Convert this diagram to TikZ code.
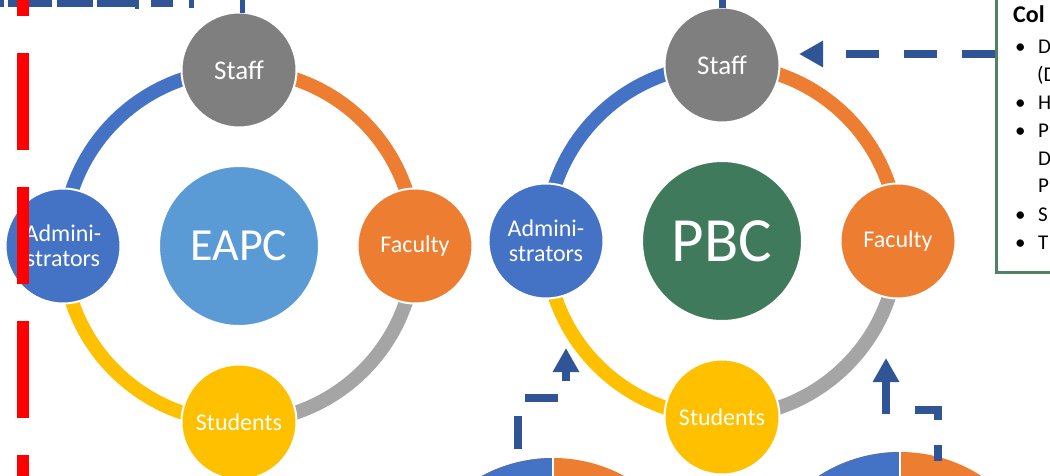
\documentclass[tikz,border=0pt]{standalone}
\usepackage{fontspec}
\setmainfont{Carlito}
\usetikzlibrary{arrows.meta}
\definecolor{cstaff}{HTML}{7F7F7F}
\definecolor{cadm}{HTML}{4472C4}
\definecolor{cfac}{HTML}{ED7D31}
\definecolor{cstu}{HTML}{FFC000}
\definecolor{cgrey}{HTML}{A5A5A5}
\definecolor{ceapc}{HTML}{5B9BD5}
\definecolor{cpbc}{RGB}{64,122,92}
\definecolor{carrow}{HTML}{2F5597}
\definecolor{cbox}{RGB}{80,130,100}
\tikzset{
  ringarc/.style={line width=14pt},
  member/.style={circle, minimum size=115pt, inner sep=0pt, draw=white, line width=2pt,
    text=white, align=center, font=\fontsize{24}{25}\selectfont},
  hub/.style={circle, minimum size=160pt, inner sep=0pt, draw=white, line width=2pt, text=white},
  flow/.style={draw=carrow, line width=8pt, dash pattern=on 33pt off 25pt,
    -{Triangle[length=24pt,width=25pt]}},
  bul/.style={anchor=base west, inner sep=0pt, font=\fontsize{21}{21}\selectfont},
}
\begin{document}
\begin{tikzpicture}[x=1pt,y=-1pt]
\useasboundingbox (0,0) rectangle (1050,476);
\clip (0,0) rectangle (1050,476);
% ---------- left cycle ----------
\coordinate (L) at (239,246);
\draw[ringarc,cfac]  (L) ++(-90:176) arc[start angle=-90,end angle=0,radius=176];
\draw[ringarc,cgrey] (L) ++(0:176)   arc[start angle=0,end angle=90,radius=176];
\draw[ringarc,cstu]  (L) ++(90:176)  arc[start angle=90,end angle=180,radius=176];
\draw[ringarc,cadm]  (L) ++(180:176) arc[start angle=180,end angle=270,radius=176];
\node[hub, fill=ceapc, font=\fontsize{46}{46}\selectfont] (eapc) at (L) {EAPC};
\node[member, fill=cstaff, font=\fontsize{27}{27}\selectfont] (staffL) at (239,70) {Staff};
\node[member, fill=cfac] (facL) at (415,246) {Faculty};
\node[member, fill=cstu] (stuL) at (239,422) {Students};
\node[member, fill=cadm] (admL) at (63,246) {Admini-\\strators};
% ---------- right cycle ----------
\coordinate (R) at (722,241);
\draw[ringarc,cfac]  (R) ++(-90:176) arc[start angle=-90,end angle=0,radius=176];
\draw[ringarc,cgrey] (R) ++(0:176)   arc[start angle=0,end angle=90,radius=176];
\draw[ringarc,cstu]  (R) ++(90:176)  arc[start angle=90,end angle=180,radius=176];
\draw[ringarc,cadm]  (R) ++(180:176) arc[start angle=180,end angle=270,radius=176];
\node[hub, fill=cpbc, font=\fontsize{63}{63}\selectfont] (pbc) at (R) {PBC};
\node[member, fill=cstaff, font=\fontsize{27}{27}\selectfont] (staffR) at (722,65) {Staff};
\node[member, fill=cfac] (facR) at (898,241) {Faculty};
\node[member, fill=cstu] (stuR) at (722,417) {Students};
\node[member, fill=cadm] (admR) at (546,241) {Admini-\\strators};
% ---------- pies ----------
\coordinate (pieL) at (553,608);
\coordinate (pieR) at (900,602);
\fill[cfac] (pieL) circle[radius=150];
\fill[cadm] (pieL) -- ++(270:150) arc[start angle=270,end angle=90,radius=150] -- cycle;
\draw[white,line width=2pt] (pieL) -- ++(270:152);
\fill[cfac] (pieR) circle[radius=150];
\fill[cadm] (pieR) -- ++(270:150) arc[start angle=270,end angle=90,radius=150] -- cycle;
\draw[white,line width=2pt] (pieR) -- ++(270:152);
% ---------- box ----------
\node[draw=cbox, line width=3pt, minimum width=100pt, minimum height=310pt, inner sep=0pt,
  anchor=south west] (box) at (995,274) {};
\node[anchor=base west, inner sep=0pt, font=\bfseries\fontsize{24}{24}\selectfont] (ttl) at (1013,23) {Col};
\node[bul] (b1) at (1015,54) {•};  \node[bul] (t1) at (1038,54) {D};
\node[bul] (t1b) at (1037,82) {(D};
\node[bul] (b2) at (1015,110) {•}; \node[bul] (t2) at (1038,110) {H};
\node[bul] (b3) at (1015,138) {•}; \node[bul] (t3) at (1038,138) {P};
\node[bul] (t3b) at (1038,166) {D};
\node[bul] (t3c) at (1038,193) {P};
\node[bul] (b4) at (1015,221) {•}; \node[bul] (t4) at (1038,221) {S};
\node[bul] (b5) at (1015,249) {•}; \node[bul] (t5) at (1038,249) {T};
% ---------- arrows ----------
\coordinate (tipTop) at (799,54);
\draw[flow] (tipTop -| box.west) -- (tipTop);
\coordinate (startBL) at (518,474);
\coordinate (tipBL) at (566,348);
\draw[flow, dash phase=33pt] (startBL) |- (tipBL |- 0,398) -- (tipBL);
\coordinate (startBR) at (937.5,461);
\coordinate (tipBR) at (886,358);
\draw[flow, dash phase=17pt] (startBR) |- (tipBR |- 0,410) -- (tipBR);
% ---------- top dashed fragments ----------
\fill[carrow] (0,0) rectangle (4,7);
\fill[carrow] (8,0) rectangle (52,7);
\fill[carrow] (57,0) rectangle (93,7);
\fill[carrow] (97,0) rectangle (139,7);
\fill[carrow] (135,0) rectangle (139,9);
\fill[carrow] (151,0) rectangle (173,7);
\fill[carrow] (189,0) rectangle (194,8);
\fill[carrow] (240,0) rectangle (245,13);
\fill[carrow] (719,0) rectangle (726,8);
% ---------- red dashed line ----------
\coordinate (redTop) at (22.5,0);
\coordinate (redBot) at (22.5,476);
\draw[red, line width=12pt, dash pattern=on 97pt off 37pt, dash phase=81pt] (redTop) -- (redBot);
\end{tikzpicture}
\end{document}
